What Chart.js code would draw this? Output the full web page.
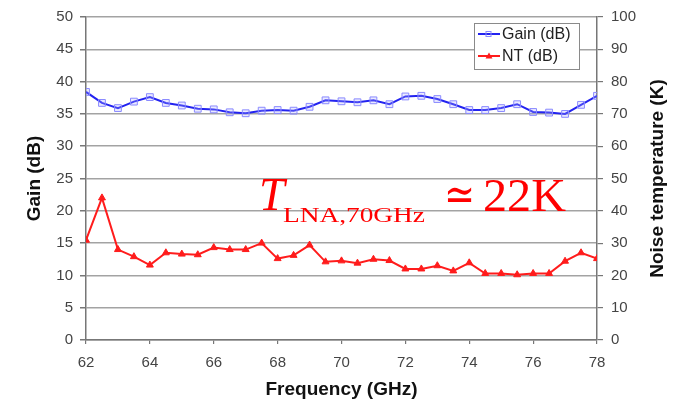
<!DOCTYPE html>
<html lang="en">
<head>
  <meta charset="UTF-8">
  <title>LNA Gain and Noise Temperature</title>
  <script src="https://cdn.jsdelivr.net/npm/chart.js"></script>
  <style>
    html, body {
      margin: 0;
      padding: 0;
      background-color: white;
    }
    #wrap {
      width: 684px;
      height: 403px;
    }
  </style>
</head>
<body>
  <div id="wrap">
    <canvas id="lnaChart" width="684" height="403"></canvas>
  </div>

  <script>
    // Data
    const freqGHz = [62, 62.5, 63, 63.5, 64, 64.5, 65, 65.5, 66, 66.5, 67, 67.5, 68, 68.5, 69, 69.5,
                     70, 70.5, 71, 71.5, 72, 72.5, 73, 73.5, 74, 74.5, 75, 75.5, 76, 76.5, 77, 77.5, 78];
    const gainDb = [38.4, 36.7, 35.9, 36.9, 37.6, 36.7, 36.3, 35.8, 35.7, 35.25, 35.1, 35.5, 35.6, 35.5, 36.1, 37.1,
                    36.95, 36.8, 37.1, 36.5, 37.7, 37.8, 37.3, 36.5, 35.6, 35.6, 35.9, 36.5, 35.3, 35.2, 35.0, 36.4, 37.8];
    const ntDb = [15.45, 22.0, 14.0, 12.9, 11.6, 13.5, 13.3, 13.2, 14.3, 14.0, 14.0, 15.0, 12.6, 13.1, 14.7, 12.1,
                  12.25, 11.9, 12.5, 12.3, 11.0, 11.0, 11.5, 10.7, 11.95, 10.3, 10.3, 10.1, 10.3, 10.3, 12.2, 13.5, 12.6];
    const seriesLabels = ["Gain (dB)", "NT (dB)"];
    const xTitle = "Frequency (GHz)";
    const yLeftTitle = "Gain (dB)";
    const yRightTitle = "Noise temperature (K)";

    const blue = "#2323f0";
    const blueMarker = "#8a8aff";
    const red = "#ff1c1c";
    const tickColor = "#444";

    function toPoints(values) {
      return freqGHz.map((f, i) => ({ x: f, y: values[i] }));
    }

    // draws text squeezed/stretched to a given width
    function fitText(ctx, text, x, y, width) {
      const w = ctx.measureText(text).width;
      ctx.save();
      ctx.translate(x, y);
      ctx.scale(width / w, 1);
      ctx.fillText(text, 0, 0);
      ctx.restore();
    }

    // right-hand axis title (reads bottom to top), annotation and legend box
    const extrasPlugin = {
      id: "extras",
      afterDraw(chart) {
        const ctx = chart.ctx;
        const area = chart.chartArea;
        ctx.save();

        // right axis title
        ctx.translate(658, (area.top + area.bottom) / 2);
        ctx.rotate(-Math.PI / 2);
        ctx.font = "bold 19px 'Liberation Sans', Arial, sans-serif";
        ctx.fillStyle = "#111";
        ctx.textAlign = "center";
        ctx.textBaseline = "middle";
        ctx.fillText(yRightTitle, 0, 0);
        ctx.restore();

        // annotation text
        ctx.save();
        ctx.fillStyle = "#ff0000";
        ctx.textBaseline = "alphabetic";
        ctx.textAlign = "left";
        ctx.font = "italic 46px 'Liberation Serif', 'Times New Roman', serif";
        ctx.fillText("T", 259, 210);
        ctx.font = "22px 'Liberation Serif', 'Times New Roman', serif";
        fitText(ctx, "LNA,70GHz", 283, 222, 142);
        ctx.font = "46px 'DejaVu Serif', serif";
        fitText(ctx, "\u2243", 444, 210, 31);
        ctx.font = "46px 'Liberation Serif', 'Times New Roman', serif";
        fitText(ctx, "22K", 483, 211, 83);
        ctx.restore();

        // legend box
        ctx.save();
        const bx = 474, by = 23, bw = 105, bh = 46;
        ctx.fillStyle = "white";
        ctx.fillRect(bx, by, bw, bh);
        ctx.strokeStyle = "#8a8a8a";
        ctx.lineWidth = 1;
        ctx.strokeRect(bx + 0.5, by + 0.5, bw, bh);

        const rows = [
          { y: 34, color: blue, label: seriesLabels[0], marker: "rect" },
          { y: 56, color: red, label: seriesLabels[1], marker: "tri" }
        ];
        rows.forEach(r => {
          ctx.strokeStyle = r.color;
          ctx.lineWidth = 2;
          ctx.beginPath();
          ctx.moveTo(478, r.y);
          ctx.lineTo(500, r.y);
          ctx.stroke();
          if (r.marker === "rect") {
            ctx.strokeStyle = blueMarker;
            ctx.lineWidth = 1;
            ctx.strokeRect(486, r.y - 2.5, 5, 5);
          } else {
            ctx.fillStyle = red;
            ctx.beginPath();
            ctx.moveTo(489, r.y - 3.5);
            ctx.lineTo(492.5, r.y + 2.5);
            ctx.lineTo(485.5, r.y + 2.5);
            ctx.closePath();
            ctx.fill();
          }
          ctx.fillStyle = "#222";
          ctx.font = "16px 'Liberation Sans', Arial, sans-serif";
          ctx.textBaseline = "middle";
          ctx.fillText(r.label, 502, r.y + 1);
        });
        ctx.restore();
      }
    };

    const ctx = document.getElementById("lnaChart").getContext("2d");
    new Chart(ctx, {
      type: "line",
      data: {
        datasets: [
          {
            label: seriesLabels[0],
            data: toPoints(gainDb),
            borderColor: blue,
            borderWidth: 2,
            pointStyle: "rect",
            pointRadius: 4.8,
            pointBorderWidth: 1,
            pointBorderColor: blueMarker,
            pointBackgroundColor: "rgba(170,170,255,0.25)",
            tension: 0,
            yAxisID: "y"
          },
          {
            label: seriesLabels[1],
            data: toPoints(ntDb),
            borderColor: red,
            borderWidth: 2,
            pointStyle: "triangle",
            pointRadius: 4,
            pointBorderWidth: 1,
            pointBorderColor: red,
            pointBackgroundColor: red,
            tension: 0,
            yAxisID: "y"
          }
        ]
      },
      options: {
        responsive: false,
        animation: false,
        devicePixelRatio: 1,
        layout: { padding: { top: 16, left: 0, right: 0, bottom: 0 } },
        plugins: {
          legend: { display: false },
          tooltip: { enabled: false }
        },
        scales: {
          x: {
            type: "linear",
            min: 62,
            max: 78,
            afterFit(scale) { scale.height = 63; },
            ticks: {
              stepSize: 2,
              color: tickColor,
              font: { family: "'Liberation Sans', Arial, sans-serif", size: 15 },
              padding: 10,
              maxRotation: 0
            },
            grid: {
              drawOnChartArea: false,
              tickLength: 4,
              tickColor: "#777",
              lineWidth: 1.2
            },
            border: { color: "#777", width: 1.5 },
            title: {
              display: true,
              text: xTitle,
              color: "#111",
              font: { family: "'Liberation Sans', Arial, sans-serif", size: 19, weight: "bold" },
              padding: { top: 0, bottom: 2 }
            }
          },
          y: {
            position: "left",
            min: 0,
            max: 50,
            afterFit(scale) { scale.width = 86; },
            ticks: {
              stepSize: 5,
              color: tickColor,
              font: { family: "'Liberation Sans', Arial, sans-serif", size: 15 },
              padding: 7
            },
            grid: {
              color: "#a3a3a3",
              lineWidth: 1.5,
              tickLength: 6,
              tickColor: "#777"
            },
            border: { color: "#777", width: 1.5 },
            title: {
              display: true,
              text: yLeftTitle,
              color: "#111",
              font: { family: "'Liberation Sans', Arial, sans-serif", size: 19, weight: "bold" },
              padding: { top: 23, bottom: 0 }
            }
          },
          y1: {
            position: "right",
            min: 0,
            max: 100,
            afterFit(scale) { scale.width = 87; },
            ticks: {
              stepSize: 10,
              color: tickColor,
              font: { family: "'Liberation Sans', Arial, sans-serif", size: 15 },
              padding: 8
            },
            grid: {
              drawOnChartArea: false,
              tickLength: 6,
              tickColor: "#777",
              lineWidth: 1.2
            },
            border: { color: "#777", width: 1.5 }
          }
        }
      },
      plugins: [extrasPlugin]
    });
  </script>
</body>
</html>
